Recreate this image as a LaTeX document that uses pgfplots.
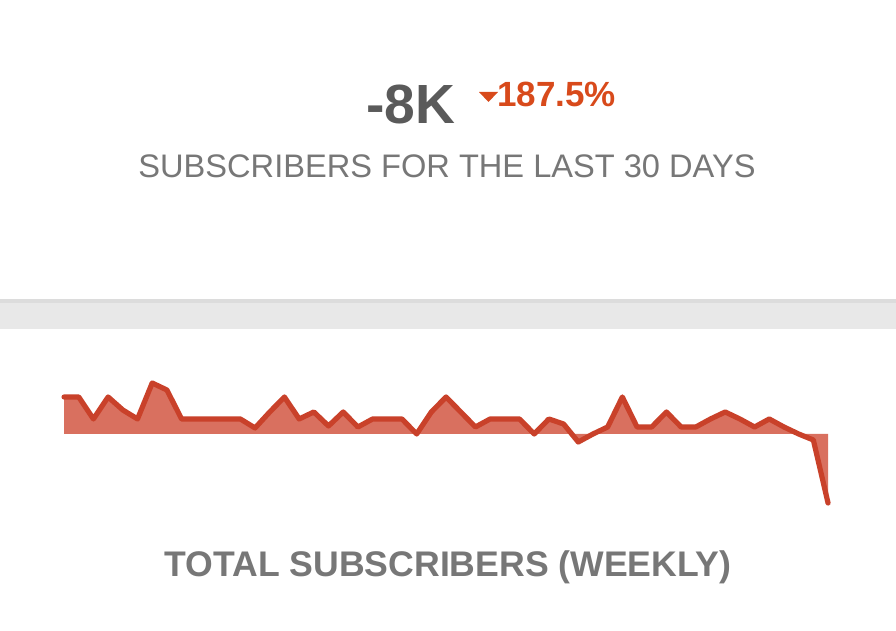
\documentclass[border=0pt]{standalone}
\usepackage{pgfplots}
\pgfplotsset{compat=1.18}
\usepackage{pgfplotstable}
\usepackage{fontspec}
\setmainfont{Liberation Sans}
\usepackage{xcolor}
\definecolor{sparkline}{HTML}{C9412A}
\definecolor{sparkfill}{HTML}{D9705F}
\definecolor{kpigrey}{HTML}{5A5A5A}
\definecolor{subgrey}{HTML}{777777}
\definecolor{downred}{HTML}{D84A1B}
\definecolor{band}{HTML}{E8E8E8}
\definecolor{bandtop}{HTML}{DCDCDC}

% weekly values read off the sparkline (pixel units above the baseline)
\pgfplotstableread{
w v
0 37
1 37
2 15
3 37
4 24
5 15
6 51
7 44
8 15
9 15
10 15
11 15
12 15
13 6
14 22
15 37
16 15
17 22
18 8
19 22
20 7
21 15
22 15
23 15
24 0
25 22
26 37
27 22
28 7
29 15
30 15
31 15
32 0
33 15
34 10
35 -8
36 0
37 7
38 37
39 7
40 7
41 22
42 7
43 7
44 15
45 22
46 15
47 7
48 15
49 7
50 0
51 -6
52 -69
}\weekly

\begin{document}
\begin{tikzpicture}[x=0.5pt,y=0.5pt]
\fill[white] (0,0) rectangle (896,631);
% grey divider band
\fill[band] (0,302) rectangle (896,332);
\fill[bandtop] (0,328) rectangle (896,332);

% KPI
\node[anchor=base west,inner sep=0,text=kpigrey,font=\fontsize{27.6}{30}\selectfont\bfseries] at (366,507) {-8K};
\fill[downred] (479,539) -- (498,539) -- (488.5,529) -- cycle;
\node[anchor=base west,inner sep=0,text=downred,font=\fontsize{17.5}{20}\selectfont\bfseries] at (497,524) {187.5\%};
\node[anchor=base,inner sep=0,text=subgrey,font=\fontsize{16.3}{19}\selectfont] at (447,453) {SUBSCRIBERS FOR THE LAST 30 DAYS};

\begin{axis}[
    at={(43.6,197)}, anchor=origin,
    scale only axis, width=382pt, height=60pt,
    xmin=0, xmax=52, ymin=-69, ymax=51,
    hide axis, clip=false,
]
\addplot[draw=none, fill=sparkfill] table[x=w,y=v] {\weekly} \closedcycle;
\addplot[sparkline, line width=2.6pt, line join=round, line cap=round] table[x=w,y=v] {\weekly};
\end{axis}

\node[anchor=base,inner sep=0,text=subgrey,font=\fontsize{17.8}{20}\selectfont\bfseries] at (448,54) {TOTAL SUBSCRIBERS (WEEKLY)};
\end{tikzpicture}
\end{document}
